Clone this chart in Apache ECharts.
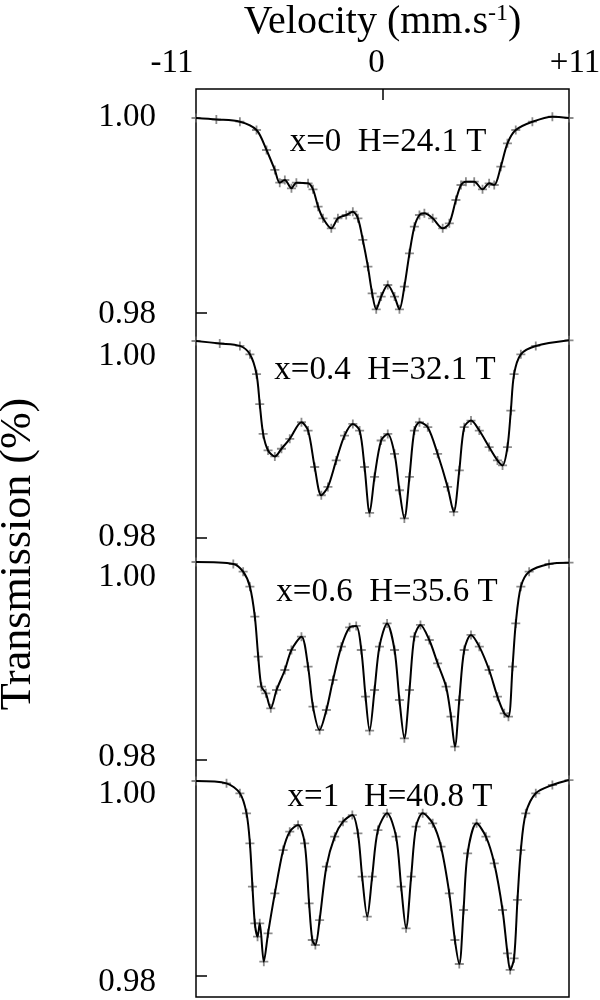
<!DOCTYPE html>
<html>
<head>
<meta charset="utf-8">
<script src="https://cdn.jsdelivr.net/npm/echarts@6/dist/echarts.min.js"></script>
<style>
html,body{margin:0;padding:0;background:#fff;}
#c{width:600px;height:1000px;}
</style>
</head>
<body>
<div id="c"></div>
<script>
// ---------- data (velocity mm/s, transmission) ----------
const xTickLabels = [-11, 0, 11];
const yTickLabels = [0.98, 1.00];
const panelTexts = ['x=0  H=24.1 T', 'x=0.4  H=32.1 T', 'x=0.6  H=35.6 T', 'x=1   H=40.8 T'];

const spec_x0 = [
  [-11,1.0000],[-9.8,0.99985],[-8.41,0.99962],[-7.43,0.99877],[-6.84,0.99672],[-6.35,0.99467],[-6.06,0.99337],
  [-5.76,0.99364],[-5.37,0.99279],[-5.08,0.99337],[-4.39,0.9933],[-4.10,0.99268],[-3.80,0.99091],[-3.51,0.98971],
  [-3.02,0.98868],[-2.63,0.98971],[-2.14,0.99005],[-1.75,0.99039],[-1.45,0.98971],[-1.16,0.98749],[-0.86,0.98475],
  [-0.61,0.98202],[-0.37,0.98038],[-0.08,0.98168],[0.31,0.98287],[0.71,0.98168],[1.0,0.98038],[1.29,0.9827],
  [1.59,0.98612],[1.88,0.98885],[2.18,0.99005],[2.47,0.99022],[2.96,0.98971],[3.55,0.98868],[3.94,0.9892],
  [4.33,0.99159],[4.63,0.99313],[4.92,0.99347],[5.41,0.99347],[5.90,0.99268],[6.29,0.9933],[6.59,0.99313],
  [6.98,0.99501],[7.37,0.9974],[7.86,0.99877],[8.84,0.99962],[10.02,1.00014],[11,1.0000]
];
const spec_x04 = [
  [-11,1.0000],[-9.6,0.99975],[-8.41,0.9995],[-7.82,0.99865],[-7.43,0.99663],[-7.24,0.9936],[-7.04,0.99057],
  [-6.75,0.98889],[-6.35,0.98828],[-5.96,0.98906],[-5.47,0.99007],[-4.78,0.99175],[-4.39,0.99091],[-4.0,0.98721],
  [-3.61,0.98434],[-3.22,0.98519],[-2.73,0.98788],[-2.24,0.9904],[-1.75,0.99158],[-1.35,0.99091],[-1.06,0.98721],
  [-0.76,0.98256],[-0.47,0.9862],[-0.08,0.9899],[0.31,0.99057],[0.71,0.98855],[1.0,0.98485],[1.29,0.98199],
  [1.59,0.9862],[1.88,0.99091],[2.18,0.99175],[2.67,0.99125],[3.25,0.98855],[3.84,0.98519],[4.2,0.98266],
  [4.53,0.98687],[4.82,0.99125],[5.22,0.99192],[5.71,0.99091],[6.29,0.98923],[6.78,0.98788],[7.08,0.98737],
  [7.37,0.98923],[7.57,0.99293],[7.76,0.99663],[8.16,0.99865],[9.04,0.9995],[11,1.00007]
];
const spec_x06 = [
  [-11,1.0000],[-8.8,0.9998],[-8.22,0.99902],[-7.82,0.99751],[-7.53,0.99448],[-7.33,0.99044],[-7.14,0.98741],
  [-6.88,0.98673],[-6.59,0.98522],[-6.25,0.98707],[-5.76,0.98909],[-5.37,0.99111],[-4.78,0.99246],[-4.39,0.98943],
  [-4.10,0.98539],[-3.71,0.98303],[-3.31,0.98505],[-2.92,0.98808],[-2.43,0.99145],[-1.94,0.9934],[-1.55,0.99354],
  [-1.25,0.99111],[-1.0,0.9864],[-0.76,0.98296],[-0.47,0.98707],[-0.18,0.99145],[0.27,0.9938],[0.71,0.99111],
  [1.0,0.98606],[1.29,0.98219],[1.59,0.98707],[1.88,0.99246],[2.24,0.99364],[2.76,0.99212],[3.25,0.98977],
  [3.75,0.98741],[4.04,0.98438],[4.27,0.98135],[4.53,0.98606],[4.82,0.99111],[5.22,0.99263],[5.71,0.99145],
  [6.29,0.98909],[6.78,0.9864],[7.18,0.98471],[7.43,0.98438],[7.67,0.98943],[7.86,0.9938],[8.16,0.99751],
  [8.65,0.99902],[9.82,0.9998],[11,0.99993]
];
const spec_x1 = [
  [-11,1.0000],[-9.2,0.99976],[-8.41,0.99874],[-8.02,0.99668],[-7.82,0.99361],[-7.67,0.98916],[-7.53,0.9854],
  [-7.37,0.98403],[-7.24,0.9854],[-7.0,0.98147],[-6.75,0.98438],[-6.35,0.98848],[-5.86,0.99292],[-5.47,0.9948],
  [-4.98,0.99549],[-4.59,0.99361],[-4.33,0.98745],[-4.14,0.98369],[-3.96,0.98318],[-3.71,0.98574],[-3.31,0.99121],
  [-2.82,0.99429],[-2.33,0.99583],[-1.78,0.99651],[-1.45,0.99463],[-1.2,0.99019],[-0.9,0.98609],[-0.61,0.99019],
  [-0.27,0.99497],[0.27,0.99668],[0.8,0.99429],[1.1,0.98916],[1.39,0.98489],[1.69,0.99019],[1.98,0.99532],
  [2.37,0.99668],[2.96,0.99566],[3.45,0.99326],[3.94,0.98848],[4.27,0.98369],[4.53,0.98123],[4.78,0.98677],
  [5.02,0.99258],[5.55,0.99566],[6.1,0.99429],[6.59,0.99156],[7.08,0.98677],[7.37,0.98233],[7.53,0.98062],
  [7.76,0.98181],[7.96,0.9878],[8.16,0.99292],[8.45,0.99668],[9.04,0.99874],[10.02,0.99959],[11,1.0001]
];
const spectra = [spec_x0, spec_x04, spec_x06, spec_x1];

// ---------- layout ----------
const G = {top: 89, bottom: 997, left: 196, right: 569};
const dataPix = [[118,313],[341,538],[562,760],[781,976]];   // pixel of 1.00 and 0.98 for data
const labelPix = [[117,314],[356,537],[577,757],[794,982]];  // pixel of 1.00 and 0.98 labels
const textPix = [[388,142],[385,370],[387,592],[390,797]];
const FONT = 'Liberation Serif';

function axisRange(p) {
  const k = (p[1] - p[0]) / 0.02;
  return {max: 1 + (p[0] - G.top) / k, min: 0.98 - (G.bottom - p[1]) / k};
}

const yAxes = [];
dataPix.forEach(p => {
  const r = axisRange(p);
  yAxes.push({
    type: 'value', position: 'left', min: r.min, max: r.max,
    axisLine: {show: false, onZero: false}, splitLine: {show: false},
    axisTick: {show: true, inside: true, length: 11, customValues: [0.98], lineStyle: {color: '#000', width: 1.5}},
    axisLabel: {show: false}
  });
});
labelPix.forEach(p => {
  const r = axisRange(p);
  yAxes.push({
    type: 'value', position: 'left', min: r.min, max: r.max,
    axisLine: {show: false, onZero: false}, splitLine: {show: false}, axisTick: {show: false},
    axisLabel: {show: true, customValues: yTickLabels, margin: 40, formatter: v => v.toFixed(2),
      color: '#000', fontFamily: FONT, fontSize: 33}
  });
});
yAxes.push({
  type: 'value', position: 'left', min: 0, max: 1,
  axisLine: {show: false, onZero: false}, splitLine: {show: false}, axisTick: {show: false}, axisLabel: {show: false},
  name: 'Transmission (%)', nameLocation: 'middle', nameGap: 156, nameRotate: 90,
  nameTextStyle: {color: '#000', fontFamily: FONT, fontSize: 44, padding: [0, 22, 0, 0]}
});

const series = [];
spectra.forEach((d, i) => {
  series.push({
    type: 'scatter', xAxisIndex: 0, yAxisIndex: i, data: d,
    symbol: 'path://M4,0H6V4H10V6H6V10H4V6H0V4H4Z', symbolSize: 9,
    itemStyle: {color: '#6e6e6e'}, silent: true, z: 2
  });
  series.push({
    type: 'line', xAxisIndex: 0, yAxisIndex: i, data: d, smooth: 0.3,
    showSymbol: false, lineStyle: {color: '#000', width: 2}, silent: true, z: 3
  });
});

const graphics = panelTexts.map((t, i) => ({
  type: 'text', x: textPix[i][0], y: textPix[i][1],
  style: {text: t, fill: '#000', font: '33px "' + FONT + '"', textAlign: 'center', textVerticalAlign: 'middle'}
}));

const chart = echarts.init(document.getElementById('c'), null, {renderer: 'canvas'});
chart.setOption({
  backgroundColor: '#fff',
  animation: false,
  grid: {left: G.left, top: G.top, width: G.right - G.left, height: G.bottom - G.top,
    containLabel: false, outerBoundsMode: 'none',
    show: true, borderColor: '#000', borderWidth: 1.5, backgroundColor: 'transparent'},
  xAxis: [{
    type: 'value', position: 'top', min: -11, max: 11,
    axisLine: {show: false, onZero: false}, splitLine: {show: false},
    axisTick: {show: true, inside: true, length: 11, customValues: [0], lineStyle: {color: '#000', width: 1.5}},
    axisLabel: {show: true, customValues: xTickLabels, margin: 9, color: '#000', fontFamily: FONT, fontSize: 33,
      formatter: v => v === -11 ? '{l|-11}' : (v === 11 ? '{r|+11}' : '{c|0}'),
      rich: {
        l: {fontFamily: FONT, fontSize: 33, color: '#000', padding: [0, 48, 0, 0]},
        c: {fontFamily: FONT, fontSize: 33, color: '#000', padding: [0, 12, 0, 0]},
        r: {fontFamily: FONT, fontSize: 33, color: '#000', padding: [0, 0, 0, 12]}
      }},
    name: '{a|Velocity (mm.s}{b|-1}{a|)}', nameLocation: 'middle', nameGap: 44,
    nameTextStyle: {rich: {
      a: {fontFamily: FONT, fontSize: 40, color: '#000'},
      b: {fontFamily: FONT, fontSize: 24, color: '#000', verticalAlign: 'top', padding: [0, 0, 14, 0]}
    }}
  }],
  yAxis: yAxes,
  series: series,
  graphic: graphics
});
</script>
</body>
</html>
